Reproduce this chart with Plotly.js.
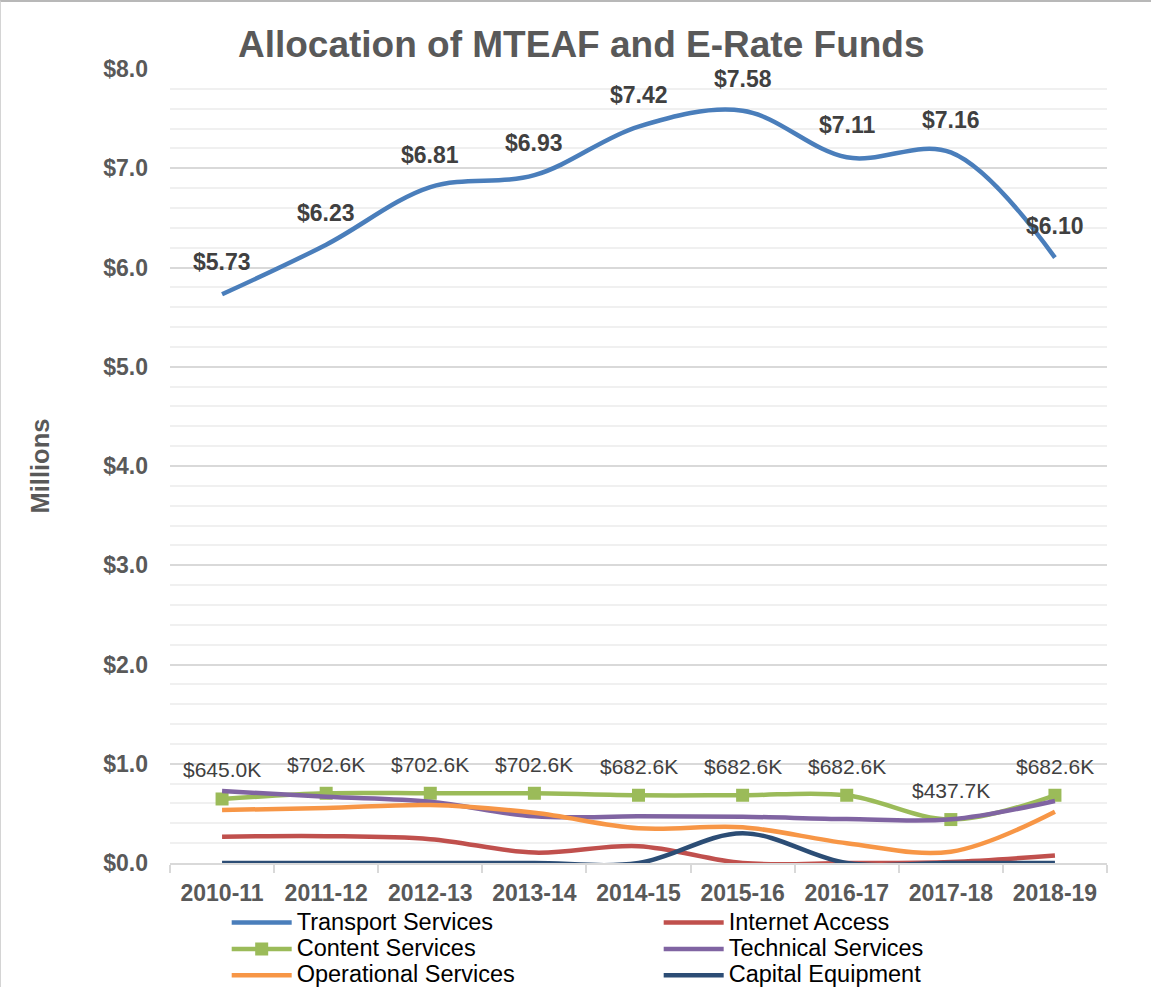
<!DOCTYPE html>
<html>
<head>
<meta charset="utf-8">
<script src="https://cdn.plot.ly/plotly-3.0.1.min.js"></script>
<style>
  html, body { margin: 0; padding: 0; background: #ffffff; }
  #chart { width: 1151px; height: 987px; position: relative; }
  #frame { position: absolute; left: 0; top: 0; width: 1151px; height: 987px;
           border-top: 2px solid #b8b8b8; border-left: 1px solid #d4d4d4;
           box-sizing: border-box; pointer-events: none; }
</style>
</head>
<body>
<div id="chart"></div>
<div id="frame"></div>
<script>
const years = ["2010-11", "2011-12", "2012-13", "2013-14", "2014-15", "2015-16", "2016-17", "2017-18", "2018-19"];

const seriesNames = ["Transport Services", "Internet Access", "Content Services",
                     "Technical Services", "Operational Services", "Capital Equipment"];

const transportServices   = [5.73, 6.23, 6.81, 6.93, 7.42, 7.58, 7.11, 7.16, 6.10];
const internetAccess      = [0.265, 0.27, 0.24, 0.105, 0.17, 0.0, 0.0, 0.01, 0.075];
const contentServices     = [0.645, 0.7026, 0.7026, 0.7026, 0.6826, 0.6826, 0.6826, 0.4377, 0.6826];
const technicalServices   = [0.725, 0.667, 0.617, 0.47, 0.47, 0.466, 0.443, 0.44, 0.625];
const operationalServices = [0.534, 0.554, 0.584, 0.506, 0.35, 0.36, 0.2, 0.114, 0.517];
const capitalEquipment    = [0.0, 0.0, 0.0, 0.0, 0.0, 0.30, 0.0, 0.0, 0.0];

const transportLabels = ["$5.73", "$6.23", "$6.81", "$6.93", "$7.42", "$7.58", "$7.11", "$7.16", "$6.10"];
const contentLabels   = ["$645.0K", "$702.6K", "$702.6K", "$702.6K", "$682.6K", "$682.6K", "$682.6K", "$437.7K", "$682.6K"];

const FONT = "Liberation Sans, Arial, sans-serif";

function legendName(n) {
  return '<span style="font-size:23.5px">' + n + '</span>';
}

function lineTrace(name, y, color, extra) {
  return Object.assign({
    type: "scatter", mode: "lines", name: legendName(name), x: years, y: y,
    line: { color: color, width: 4.5, shape: "spline", smoothing: 1 },
    hovertemplate: name + ": %{y:$.2f}M<extra></extra>"
  }, extra || {});
}

const traces = [
  lineTrace(seriesNames[0], transportServices, "#4a7ebb"),
  lineTrace(seriesNames[1], internetAccess, "#c0504d"),
  lineTrace(seriesNames[2], contentServices, "#9bbb59", {
    mode: "lines+markers",
    marker: { symbol: "square", size: 13, color: "#9bbb59" }
  }),
  lineTrace(seriesNames[3], technicalServices, "#8064a2"),
  lineTrace(seriesNames[4], operationalServices, "#f79646"),
  lineTrace(seriesNames[5], capitalEquipment, "#2c4d75")
];

const annotations = [];
years.forEach((yr, i) => {
  annotations.push({
    x: yr, y: transportServices[i], xref: "x", yref: "y",
    text: transportLabels[i], showarrow: false, yshift: 32,
    font: { family: FONT, size: 23, color: "#404040", weight: "bold" }
  });
  annotations.push({
    x: yr, y: contentServices[i], xref: "x", yref: "y",
    text: contentLabels[i], showarrow: false, yshift: 29,
    font: { family: FONT, size: 21, color: "#404040" }
  });
});

const layout = {
  width: 1151, height: 987,
  margin: { l: 170, r: 44, t: 69, b: 124, autoexpand: false },
  paper_bgcolor: "#ffffff", plot_bgcolor: "#ffffff",
  font: { family: FONT, color: "#595959" },
  title: {
    text: "<b>Allocation of MTEAF and E-Rate Funds</b>",
    font: { family: FONT, size: 37, color: "#595959" },
    x: 0.505, xanchor: "center", y: 0.955, yanchor: "middle"
  },
  showlegend: true,
  legend: {
    orientation: "h", x: 0.0605, xanchor: "left", y: -0.052, yanchor: "top",
    entrywidth: 357, entrywidthmode: "pixels",
    font: { family: FONT, size: 18, color: "#000000" },
    itemwidth: 60, tracegroupgap: 0, bgcolor: "rgba(0,0,0,0)"
  },
  xaxis: {
    type: "category", categoryorder: "array", categoryarray: years,
    range: [-0.5, 8.5],
    showline: true, linecolor: "#d9d9d9", linewidth: 2,
    ticks: "outside", tickson: "boundaries", ticklen: 8, tickcolor: "#d9d9d9", tickwidth: 1.5,
    showgrid: false, zeroline: false,
    tickfont: { family: FONT, size: 23, color: "#595959", weight: "bold" },
    ticklabelstandoff: 8
  },
  yaxis: {
    range: [0, 8], dtick: 1, tick0: 0,
    tickprefix: "$", tickformat: ".1f",
    showgrid: true, gridcolor: "#d9d9d9", gridwidth: 2,
    minor: { dtick: 0.2, showgrid: true, gridcolor: "#f0f0f0", gridwidth: 2, ticks: "" },
    zeroline: false, showline: false, ticks: "",
    tickfont: { family: FONT, size: 23, color: "#595959", weight: "bold" },
    ticklabelstandoff: 21,
    title: {
      text: "<b>Millions</b>", standoff: 46,
      font: { family: FONT, size: 25.5, color: "#595959" }
    }
  },
  annotations: annotations
};

Plotly.newPlot("chart", traces, layout, { displayModeBar: false, responsive: false });
</script>
</body>
</html>
